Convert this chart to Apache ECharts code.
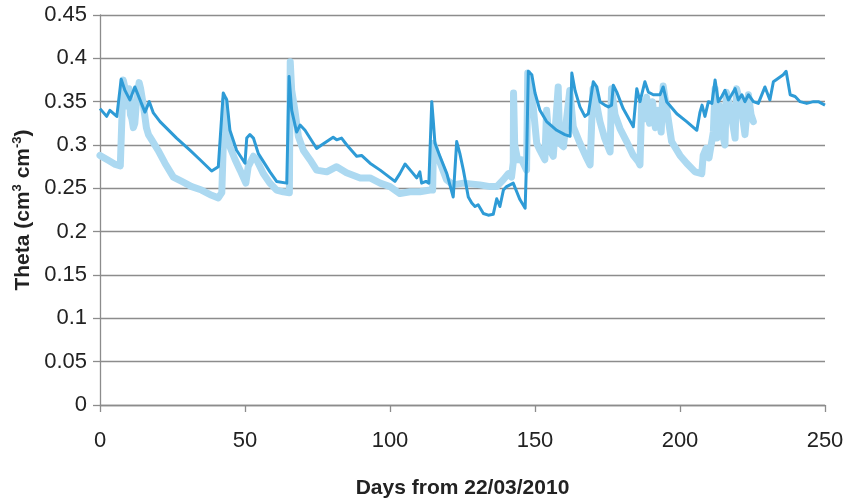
<!DOCTYPE html>
<html>
<head>
<meta charset="utf-8">
<script src="https://cdn.jsdelivr.net/npm/echarts@6/dist/echarts.min.js"></script>
<style>
  html, body { margin: 0; padding: 0; background: #fff; }
  #chart { width: 846px; height: 503px; }
</style>
</head>
<body>
<div id="chart"></div>
<script>
// modelled soil moisture (solid line)
var modelDays = [0, 2.3, 3.4, 5.8, 7.3, 8.6, 10.3, 12, 15.5, 17, 18.4, 20.7, 26.4, 31, 34.5, 38.5, 40.8, 42.5, 43.7, 44.8,
  47.1, 50, 50.6, 51.7, 52.9, 54.6, 58.6, 60.9, 64.4, 65.2, 66.1, 67.8, 69, 70.7, 74.7, 76.4, 80.4, 81.6, 83.3, 85.1,
  88.5, 90.2, 93.1, 96.6, 101.7, 103.4, 105.2, 108, 109.2, 110.3, 110.9, 112.4, 113.4, 114.4, 114.9, 115.5, 117.2, 119.6, 121.8, 123,
  124.1, 125.3, 127, 128.2, 129.3, 130.4, 132.2, 133.9, 135.6, 136.8, 137.9, 139.1, 140.2, 142.5, 143.7, 144.8, 146.6, 147.1, 147.7, 148.9,
  150, 151.7, 154, 157.5, 160.3, 162.1, 162.7, 163.8, 165.5, 167.2, 168.4, 170.1, 171.3, 172.4, 174.1, 175.3, 176.4, 177, 178.2, 180.4,
  183.9, 185.1, 186.2, 187.9, 189.1, 190.8, 193.1, 194.2, 195.4, 198.9, 202.3, 205.8, 206.9, 207.6, 208.6, 209.8, 211, 212.1, 213.2, 214.4,
  215.5, 216.7, 217.8, 219, 220.1, 221.3, 222.4, 223.6, 225.3, 227, 229.3, 231, 232.2, 233.9, 235.6, 236.6, 238, 239.7, 241.4, 243.7,
  246, 247.7, 250];
var modelTheta = [0.342, 0.333, 0.340, 0.333, 0.376, 0.363, 0.352, 0.367, 0.338, 0.350, 0.337, 0.327, 0.308, 0.294, 0.283, 0.270, 0.275, 0.360, 0.352, 0.317,
  0.294, 0.279, 0.308, 0.312, 0.308, 0.290, 0.269, 0.258, 0.256, 0.379, 0.340, 0.315, 0.323, 0.317, 0.296, 0.300, 0.309, 0.306, 0.308, 0.300,
  0.287, 0.288, 0.279, 0.271, 0.258, 0.267, 0.278, 0.267, 0.262, 0.269, 0.256, 0.258, 0.256, 0.350, 0.329, 0.302, 0.287, 0.267, 0.240, 0.304,
  0.290, 0.271, 0.240, 0.233, 0.229, 0.231, 0.221, 0.219, 0.220, 0.238, 0.229, 0.248, 0.252, 0.256, 0.246, 0.237, 0.227, 0.283, 0.385, 0.381,
  0.360, 0.340, 0.327, 0.317, 0.312, 0.310, 0.383, 0.363, 0.344, 0.333, 0.336, 0.373, 0.367, 0.350, 0.346, 0.344, 0.346, 0.369, 0.361, 0.342,
  0.321, 0.365, 0.350, 0.373, 0.361, 0.358, 0.358, 0.367, 0.350, 0.336, 0.327, 0.317, 0.338, 0.346, 0.333, 0.350, 0.348, 0.375, 0.350, 0.356,
  0.363, 0.352, 0.358, 0.365, 0.352, 0.358, 0.350, 0.358, 0.350, 0.348, 0.367, 0.352, 0.373, 0.377, 0.381, 0.385, 0.358, 0.356, 0.350, 0.348,
  0.350, 0.350, 0.346];

// measured soil moisture (light markers)
var obsDays = [0, 1.5, 3, 5, 7, 7.5, 8, 8.2, 9, 9.5, 10, 10.5, 11, 11.5, 12, 12.7, 13.5, 14, 15, 16,
  16.7, 18, 20, 22.4, 25.3, 28.2, 31.6, 35, 38.5, 40.8, 42, 43, 43.7, 44.8, 46.6, 48.3, 50.3, 51.1, 52.9, 54,
  56.3, 58.6, 60.9, 63.2, 65.3, 65.6, 66.1, 67.2, 68.4, 70.1, 72.4, 74.7, 78.2, 81.6, 85, 89.7, 93.1, 96.6, 100, 103.4,
  106.9, 110.3, 113.8, 114.7, 115, 116.1, 117.8, 119.5, 121.8, 125.3, 131, 134.5, 136.8, 139.1, 140.8, 141.9, 142.5, 142.6, 143, 144,
  145.4, 147.1, 147.5, 148.9, 149.5, 150.6, 151.7, 153.4, 154, 155.2, 156.3, 158, 158.5, 159.8, 162, 163.2, 165.5, 167.8, 169, 170,
  171.3, 172.4, 174, 175.9, 176.4, 177.6, 179.3, 181.6, 183.9, 185.6, 186.2, 186.8, 187.5, 188.5, 189.5, 190.5, 191.5, 192.5, 193.5, 194.2,
  195.4, 197.1, 200, 202.3, 205.2, 207.5, 208, 209, 210, 211.5, 212.1, 212.7, 213.5, 214.5, 215.5, 216, 217.5, 219, 219.5, 221,
  222.4, 223.6, 224.5, 225.3];
var obsTheta = [0.288, 0.285, 0.282, 0.278, 0.276, 0.274, 0.375, 0.372, 0.360, 0.345, 0.365, 0.335, 0.330, 0.320, 0.325, 0.355, 0.372, 0.365, 0.345, 0.320,
  0.312, 0.305, 0.294, 0.279, 0.263, 0.258, 0.252, 0.248, 0.242, 0.239, 0.245, 0.352, 0.321, 0.298, 0.283, 0.271, 0.256, 0.275, 0.287, 0.283,
  0.267, 0.256, 0.248, 0.246, 0.245, 0.396, 0.363, 0.340, 0.310, 0.294, 0.283, 0.271, 0.269, 0.275, 0.268, 0.262, 0.262, 0.256, 0.252, 0.244,
  0.246, 0.246, 0.248, 0.248, 0.302, 0.290, 0.275, 0.260, 0.254, 0.256, 0.254, 0.252, 0.252, 0.260, 0.267, 0.263, 0.280, 0.360, 0.300, 0.283,
  0.283, 0.271, 0.383, 0.360, 0.340, 0.302, 0.294, 0.283, 0.340, 0.294, 0.287, 0.367, 0.302, 0.298, 0.363, 0.321, 0.302, 0.285, 0.277, 0.365,
  0.346, 0.327, 0.308, 0.292, 0.365, 0.335, 0.319, 0.304, 0.288, 0.281, 0.277, 0.350, 0.330, 0.355, 0.325, 0.350, 0.320, 0.340, 0.315, 0.368,
  0.342, 0.304, 0.288, 0.279, 0.269, 0.267, 0.288, 0.296, 0.285, 0.315, 0.365, 0.308, 0.346, 0.315, 0.300, 0.361, 0.338, 0.308, 0.365, 0.346,
  0.312, 0.358, 0.335, 0.327];

var yTicks = ['0', '0.05', '0.1', '0.15', '0.2', '0.25', '0.3', '0.35', '0.4', '0.45'];

function pairs(xs, ys) {
  return xs.map(function (x, i) { return [x, ys[i]]; });
}

var myChart = echarts.init(document.getElementById('chart'));

var option = {
  animation: false,
  textStyle: { fontFamily: 'Liberation Sans' },
  grid: { left: 100, right: 21, top: 15, bottom: 98, outerBoundsMode: 'none' },
  xAxis: {
    type: 'value',
    min: 0,
    max: 250,
    interval: 50,
    name: 'Days from 22/03/2010',
    nameLocation: 'middle',
    nameGap: 73,
    nameTextStyle: { color: '#222', fontSize: 21, fontWeight: 'bold' },
    axisLine: { lineStyle: { color: '#8c8c8c', width: 1.3 } },
    axisTick: { length: 7, lineStyle: { color: '#8c8c8c', width: 1.3 } },
    axisLabel: { color: '#222', fontSize: 22, margin: 25 },
    splitLine: { show: false }
  },
  yAxis: {
    type: 'value',
    min: 0,
    max: 0.45,
    interval: 0.05,
    name: 'Theta (cm{sup|3} cm{sup|-3})',
    nameLocation: 'middle',
    nameRotate: 90,
    nameGap: 63,
    nameTextStyle: {
      color: '#222', fontSize: 21, fontWeight: 'bold',
      rich: { sup: { fontSize: 13, fontWeight: 'bold', color: '#222', padding: [0, 0, 10, 0] } }
    },
    axisLine: { show: true, lineStyle: { color: '#8c8c8c', width: 1.3 } },
    axisTick: { show: true, length: 7, lineStyle: { color: '#8c8c8c', width: 1.3 } },
    axisLabel: {
      color: '#222', fontSize: 22, margin: 13,
      formatter: function (v) { return yTicks[Math.round(v / 0.05)]; }
    },
    splitLine: { lineStyle: { color: '#8c8c8c', width: 1.3 } }
  },
  series: [
    {
      name: 'Measured',
      type: 'line',
      data: pairs(obsDays, obsTheta),
      showSymbol: false,
      lineStyle: { color: '#acd9f1', width: 7, cap: 'round', join: 'round' },
      z: 2
    },
    {
      name: 'Modelled',
      type: 'line',
      data: pairs(modelDays, modelTheta),
      showSymbol: false,
      lineStyle: { color: '#2e9bd6', width: 3, join: 'round' },
      z: 3
    }
  ]
};
myChart.setOption(option);
window.addEventListener('resize', function () {
  myChart.resize();
});
</script>
</body>
</html>
